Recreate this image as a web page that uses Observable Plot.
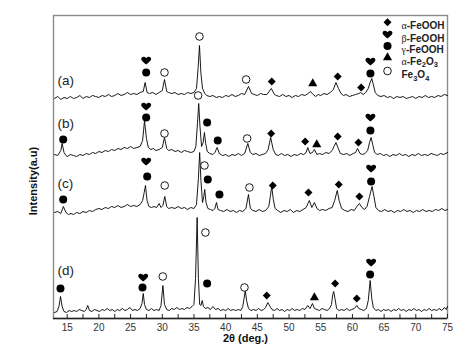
<!DOCTYPE html>
<html><head><meta charset="utf-8">
<script src="https://cdn.jsdelivr.net/npm/d3@7"></script>
<script src="https://cdn.jsdelivr.net/npm/@observablehq/plot@0.6"></script>
<style>body{margin:0;background:#fff;font-family:Arial,"Liberation Sans",sans-serif;}</style>
</head><body><div id="chart"></div>
<script>
// 2θ (deg.) , intensity (a.u., stacked)
const traceA = [[13.0,220],[13.5,222],[14.0,219],[14.5,221],[15.0,220],[15.5,222],[16.0,220],[16.5,221],[17.0,223],[17.5,220],[18.0,222],[18.5,221],[19.0,223],[19.5,222],[20.0,221],[20.5,223],[21.0,222],[21.5,224],[22.0,222],[22.5,223],[23.0,225],[23.5,223],[24.0,224],[24.5,226],[25.0,224],[25.5,225],[26.0,224],[26.5,226],[27.0,227],[27.3,236],[27.6,226],[28.0,225],[28.5,226],[29.0,224],[29.5,226],[30.0,228],[30.35,239],[30.7,227],[31.0,226],[31.5,225],[32.0,226],[32.5,224],[33.0,225],[33.5,224],[34.0,226],[34.5,225],[35.0,226],[35.4,230],[35.65,250],[35.87,273],[36.1,245],[36.35,230],[36.7,225],[37.0,223],[37.5,222],[38.0,223],[38.5,221],[39.0,222],[39.5,221],[40.0,223],[40.5,222],[41.0,224],[41.5,222],[42.0,223],[42.5,225],[43.0,224],[43.6,232],[44.1,225],[44.5,224],[45.0,223],[45.5,225],[46.0,224],[46.5,224],[47.2,230],[47.7,224],[48.0,223],[48.5,222],[49.0,224],[49.5,222],[50.0,223],[50.5,221],[51.0,223],[51.5,222],[52.0,224],[52.5,223],[53.0,225],[53.4,227],[53.8,224],[54.2,222],[54.6,224],[55.0,223],[55.5,225],[56.0,224],[56.5,226],[57.0,229],[57.4,236],[57.8,230],[58.2,225],[58.6,223],[59.0,224],[59.5,222],[60.0,223],[60.5,224],[61.0,225],[61.3,226],[61.7,224],[62.1,226],[62.5,230],[62.8,236],[63.05,240],[63.3,234],[63.6,226],[64.0,223],[64.5,222],[65.0,223],[65.5,221],[66.0,222],[66.5,220],[67.0,222],[67.5,221],[68.0,222],[68.5,220],[69.0,221],[69.5,222],[70.0,220],[70.5,222],[71.0,221],[71.5,223],[72.0,221],[72.5,222],[73.0,221],[73.5,223],[74.0,222],[74.5,224],[75.0,223]];
const traceB = [[13.0,164],[13.5,163],[14.0,168],[14.2,175],[14.5,166],[14.8,163],[15.0,162],[15.5,164],[16.0,163],[16.5,162],[17.0,164],[17.5,163],[18.0,165],[18.5,164],[19.0,166],[19.5,165],[20.0,167],[20.5,166],[21.0,168],[21.5,167],[22.0,169],[22.5,168],[23.0,170],[23.5,169],[24.0,171],[24.5,170],[25.0,172],[25.5,170],[26.0,171],[26.5,172],[26.9,178],[27.2,198],[27.5,180],[27.8,171],[28.2,169],[28.6,170],[29.0,168],[29.5,169],[30.0,171],[30.35,181],[30.7,170],[31.0,168],[31.5,169],[32.0,167],[32.5,168],[33.0,166],[33.5,168],[34.0,167],[34.5,166],[35.0,167],[35.3,172],[35.55,195],[35.75,215],[35.95,192],[36.2,172],[36.45,176],[36.65,186],[36.85,175],[37.1,167],[37.5,165],[38.0,164],[38.3,166],[38.66,171],[39.0,165],[39.5,163],[40.0,164],[40.5,162],[41.0,164],[41.5,163],[42.0,165],[42.5,163],[43.0,165],[43.5,175],[43.9,166],[44.3,164],[44.8,165],[45.3,163],[45.8,164],[46.3,165],[46.7,169],[47.1,181],[47.5,169],[47.9,164],[48.3,163],[48.8,165],[49.3,163],[49.8,164],[50.3,162],[50.8,164],[51.3,163],[51.8,165],[52.3,164],[52.7,166],[52.95,171],[53.3,165],[53.7,166],[54.0,169],[54.4,164],[54.8,165],[55.3,164],[55.8,166],[56.3,165],[56.8,168],[57.1,172],[57.4,176],[57.7,171],[58.1,165],[58.6,164],[59.1,165],[59.6,163],[60.1,165],[60.5,166],[60.8,170],[61.2,165],[61.6,164],[62.0,165],[62.4,168],[62.7,176],[62.95,181],[63.2,174],[63.5,166],[63.9,164],[64.4,165],[64.9,163],[65.4,164],[65.9,162],[66.4,164],[66.9,163],[67.4,165],[67.9,163],[68.4,164],[68.9,162],[69.4,164],[69.9,163],[70.4,165],[70.9,163],[71.4,164],[71.9,163],[72.4,165],[72.9,164],[73.4,163],[73.9,165],[74.4,164],[75.0,166]];
const traceC = [[13.0,106],[13.5,107],[14.0,105],[14.4,112],[14.8,106],[15.2,104],[15.6,105],[16.0,104],[16.5,106],[17.0,105],[17.5,107],[18.0,106],[18.5,108],[19.0,107],[19.5,109],[20.0,110],[20.5,109],[21.0,111],[21.5,110],[22.0,112],[22.5,111],[23.0,113],[23.5,111],[24.0,112],[24.5,114],[25.0,112],[25.5,113],[26.0,112],[26.5,114],[26.9,118],[27.15,126],[27.35,133],[27.6,118],[27.9,112],[28.3,111],[28.7,112],[29.1,111],[29.5,115],[29.8,111],[30.1,113],[30.4,122],[30.7,112],[31.0,110],[31.5,111],[32.0,110],[32.5,112],[33.0,110],[33.5,111],[34.0,109],[34.5,111],[35.0,110],[35.4,114],[35.7,140],[35.9,166],[36.1,138],[36.35,116],[36.55,122],[36.7,129],[36.9,116],[37.2,110],[37.6,109],[38.0,108],[38.3,110],[38.55,116],[38.8,109],[39.2,108],[39.7,107],[40.2,109],[40.7,107],[41.2,108],[41.7,106],[42.2,108],[42.7,107],[43.2,110],[43.6,124],[43.9,110],[44.3,108],[44.8,107],[45.3,109],[45.8,107],[46.3,108],[46.8,112],[47.05,122],[47.27,132],[47.5,120],[47.8,110],[48.2,108],[48.7,106],[49.2,108],[49.7,107],[50.2,109],[50.7,106],[51.2,108],[51.7,107],[52.2,109],[52.7,111],[53.2,118],[53.6,111],[54.0,116],[54.4,110],[54.8,108],[55.3,109],[55.8,108],[56.3,110],[56.8,111],[57.2,118],[57.6,128],[57.9,118],[58.3,110],[58.8,108],[59.3,107],[59.8,109],[60.3,108],[60.7,112],[61.1,115],[61.5,111],[61.9,109],[62.3,112],[62.7,122],[63.1,132],[63.4,122],[63.7,111],[64.1,108],[64.6,107],[65.1,109],[65.6,107],[66.1,108],[66.6,106],[67.1,108],[67.6,107],[68.1,109],[68.6,107],[69.1,108],[69.6,106],[70.1,108],[70.6,107],[71.1,109],[71.6,107],[72.1,108],[72.6,107],[73.1,109],[73.6,108],[74.1,110],[74.6,108],[75.0,109]];
const traceD = [[13.0,6],[13.4,7],[13.7,12],[13.95,22],[14.2,12],[14.5,7],[14.9,6],[15.3,8],[15.7,7],[16.1,8],[16.5,7],[16.9,9],[17.3,8],[17.7,7],[18.0,9],[18.25,13],[18.5,8],[18.9,7],[19.3,9],[19.7,8],[20.1,7],[20.5,9],[20.9,8],[21.3,10],[21.7,8],[22.1,9],[22.5,7],[22.9,9],[23.3,8],[23.7,10],[24.1,8],[24.5,9],[24.9,11],[25.3,8],[25.7,9],[26.1,8],[26.5,10],[26.8,15],[27.0,25],[27.2,14],[27.5,9],[27.9,8],[28.3,10],[28.7,8],[29.1,9],[29.5,8],[29.8,13],[30.1,33],[30.35,14],[30.7,9],[31.1,8],[31.5,10],[31.9,9],[32.3,11],[32.7,9],[33.1,10],[33.5,9],[33.9,11],[34.3,10],[34.7,12],[35.0,14],[35.25,40],[35.5,101],[35.7,40],[35.9,14],[36.1,13],[36.3,18],[36.5,12],[36.8,10],[37.2,11],[37.6,9],[38.0,12],[38.4,9],[38.8,10],[39.2,8],[39.6,9],[40.0,8],[40.4,10],[40.8,8],[41.2,9],[41.6,8],[42.0,9],[42.4,8],[42.7,12],[42.9,20],[43.1,28],[43.3,18],[43.6,10],[44.0,8],[44.4,9],[44.8,8],[45.2,10],[45.6,8],[46.0,9],[46.3,11],[46.65,16],[47.0,12],[47.3,9],[47.7,8],[48.1,10],[48.5,8],[48.9,9],[49.3,7],[49.7,9],[50.1,8],[50.5,10],[50.9,8],[51.3,9],[51.7,8],[52.1,10],[52.5,9],[52.95,13],[53.3,10],[53.7,15],[54.0,10],[54.4,9],[54.8,8],[55.2,10],[55.6,9],[56.0,8],[56.4,10],[56.7,14],[56.9,24],[57.05,27],[57.25,20],[57.5,10],[57.9,8],[58.3,9],[58.7,8],[59.1,10],[59.5,8],[59.9,9],[60.3,10],[60.7,13],[61.0,10],[61.4,9],[61.8,8],[62.2,10],[62.5,18],[62.8,38],[63.05,20],[63.3,11],[63.7,8],[64.1,9],[64.5,7],[64.9,9],[65.3,8],[65.7,9],[66.1,7],[66.5,9],[66.9,8],[67.3,10],[67.7,8],[68.1,9],[68.5,7],[68.9,9],[69.3,8],[69.7,10],[70.1,8],[70.5,9],[70.9,7],[71.3,9],[71.7,8],[72.1,10],[72.5,8],[72.9,9],[73.3,8],[73.7,10],[74.1,8],[74.5,11],[74.8,9],[75.0,12]];

const seriesNames = ["(a)", "(b)", "(c)", "(d)"];
const seriesLabelY = [238, 195, 135, 48];

const phases = ["α-FeOOH", "β-FeOOH", "γ-FeOOH", "α-Fe2O3", "Fe3O4"];

// [phase, 2θ, intensity level of the marker]
const markersA = [["β-FeOOH",27.46,258],["γ-FeOOH",27.46,246],["Fe3O4",30.35,246],["Fe3O4",35.87,282],["Fe3O4",43.23,239],["α-FeOOH",47.27,237],["α-Fe2O3",53.74,235],["α-FeOOH",57.68,242],["α-FeOOH",61.37,231],["γ-FeOOH",62.84,245],["β-FeOOH",62.84,257]];
const markersB = [["β-FeOOH",27.46,212],["γ-FeOOH",27.46,201],["γ-FeOOH",14.37,179],["Fe3O4",30.35,185],["Fe3O4",35.66,223],["γ-FeOOH",37.08,196],["γ-FeOOH",38.75,178],["Fe3O4",43.39,180],["α-FeOOH",47.18,185],["α-FeOOH",52.54,177],["α-Fe2O3",54.37,174],["α-FeOOH",57.68,182],["α-FeOOH",60.95,176],["γ-FeOOH",62.84,188],["β-FeOOH",62.84,201]];
const markersC = [["β-FeOOH",27.46,157],["γ-FeOOH",27.62,142],["γ-FeOOH",14.37,119],["Fe3O4",30.39,133],["Fe3O4",36.66,153],["γ-FeOOH",37.18,139],["γ-FeOOH",39.02,124],["Fe3O4",43.75,131],["α-FeOOH",47.43,133],["α-FeOOH",53.06,126],["α-FeOOH",57.84,134],["α-FeOOH",61.1,122],["γ-FeOOH",62.95,137],["β-FeOOH",62.95,150]];
const markersD = [["γ-FeOOH",13.94,30],["β-FeOOH",26.99,41],["γ-FeOOH",26.88,31],["Fe3O4",30.08,42],["Fe3O4",36.81,86],["γ-FeOOH",37.08,35],["Fe3O4",42.97,31],["α-FeOOH",46.48,23],["α-Fe2O3",54.0,21],["α-FeOOH",57.27,35],["α-FeOOH",60.68,20],["γ-FeOOH",62.79,44],["β-FeOOH",62.95,56]];

const xTicks = [15, 17.5, 20, 22.5, 25, 27.5, 30, 32.5, 35, 37.5, 40, 42.5, 45, 47.5, 50, 52.5, 55, 57.5, 60, 62.5, 65, 67.5, 70, 72.5, 75];
const xTickLabels = [15, 20, 25, 30, 35, 40, 45, 50, 55, 60, 65, 70, 75];
const xLabel = "2θ (deg.)";
const yLabel = "Intensity(a.u)";

// ---- build tables ----
const traces = [traceA, traceB, traceC, traceD];
const lineData = traces.flatMap((t, i) => t.map(([x, y]) => ({series: seriesNames[i], x, y})));
const markerData = [markersA, markersB, markersC, markersD]
  .flatMap((m, i) => m.map(([phase, x, y]) => ({series: seriesNames[i], phase, x, y})));
const labelData = seriesNames.map((s, i) => ({s, y: seriesLabelY[i]}));

const heart = {
  draw(ctx, size) {
    const r = Math.sqrt(size / Math.PI);
    ctx.moveTo(0, 0.95 * r);
    ctx.bezierCurveTo(-0.3 * r, 0.6 * r, -1.15 * r, 0.15 * r, -1.15 * r, -0.35 * r);
    ctx.bezierCurveTo(-1.15 * r, -0.95 * r, -0.3 * r, -1.05 * r, 0, -0.5 * r);
    ctx.bezierCurveTo(0.3 * r, -1.05 * r, 1.15 * r, -0.95 * r, 1.15 * r, -0.35 * r);
    ctx.bezierCurveTo(1.15 * r, 0.15 * r, 0.3 * r, 0.6 * r, 0, 0.95 * r);
    ctx.closePath();
  }
};
const phaseStyle = {
  "α-FeOOH": {symbol: "diamond2", fill: "black", stroke: "none", r: 3.6},
  "β-FeOOH": {symbol: heart, fill: "black", stroke: "none", r: 4.3},
  "γ-FeOOH": {symbol: "circle", fill: "black", stroke: "none", r: 4},
  "α-Fe2O3": {symbol: "triangle", fill: "black", stroke: "none", r: 3.4},
  "Fe3O4": {symbol: "circle", fill: "white", stroke: "black", r: 3.8, strokeWidth: 0.9}
};
// legend row offsets from the top of the frame
const legendRowDy = [6.7, 19, 30.5, 42, 55.5];

const font = 'Arial, "Liberation Sans", sans-serif';

const plot = Plot.plot({
  width: 468,
  height: 353,
  marginLeft: 53,
  marginRight: 21,
  marginTop: 15,
  marginBottom: 35,
  style: {fontFamily: font, background: "white"},
  x: {domain: [12.84, 75], label: null},
  y: {domain: [0, 303], axis: null},
  marks: [
    Plot.frame({stroke: "#8c8c8c", strokeWidth: 1.4}),
    Plot.ruleY([0], {stroke: "#222", strokeWidth: 1.3}),
    Plot.axisX(xTicks, {tickSize: -4, tickFormat: () => "", label: null, stroke: "#222"}),
    Plot.axisX(xTickLabels, {tickSize: 0, tickPadding: 5, fontSize: 10, fill: "#333", label: null}),
    Plot.line(lineData, {x: "x", y: "y", z: "series", stroke: "black", strokeWidth: 0.9}),
    ...phases.map(p => Plot.dot(markerData.filter(d => d.phase === p), {x: "x", y: "y", ...phaseStyle[p]})),
    Plot.text(labelData, {y: "y", text: "s", frameAnchor: "left", textAnchor: "start", dx: 4, fontSize: 13.5, fill: "#222"}),
    ...phases.map((p, i) => Plot.dot([0], {frameAnchor: "top-right", dx: -60, dy: legendRowDy[i], ...phaseStyle[p]})),
    ...phases.map((p, i) => Plot.text([p], {frameAnchor: "top-right", textAnchor: "start", dx: -46, dy: legendRowDy[i], fontSize: 10, fontWeight: "bold", fill: "#222"})),
    Plot.text([yLabel], {frameAnchor: "left", textAnchor: "middle", rotate: -90, dx: -20, dy: 14, fontSize: 11, fontWeight: "bold", fill: "#111"}),
    Plot.text([xLabel], {frameAnchor: "bottom", textAnchor: "middle", dx: -5, dy: 23.5, fontSize: 11, fontWeight: "bold", fill: "#111"})
  ]
});

document.getElementById("chart").append(plot);

// Greek letters in serif, digits as subscripts in the legend
d3.select(plot).selectAll("text").each(function () {
  const s = this.textContent;
  if (!phases.includes(s)) return;
  const el = d3.select(this);
  el.selectAll("*").remove();
  el.text(null);
  let sub = false;
  for (const ch of s) {
    const t = el.append("tspan").text(ch);
    if (/[αβγ]/.test(ch)) t.attr("font-family", '"Liberation Serif", "Times New Roman", serif').attr("font-weight", "normal");
    if (/[0-9]/.test(ch)) { t.attr("font-size", 7.5); if (!sub) { t.attr("dy", 2.5); sub = true; } }
    else if (sub) { t.attr("dy", -2.5); sub = false; }
  }
});
</script>
</body></html>
